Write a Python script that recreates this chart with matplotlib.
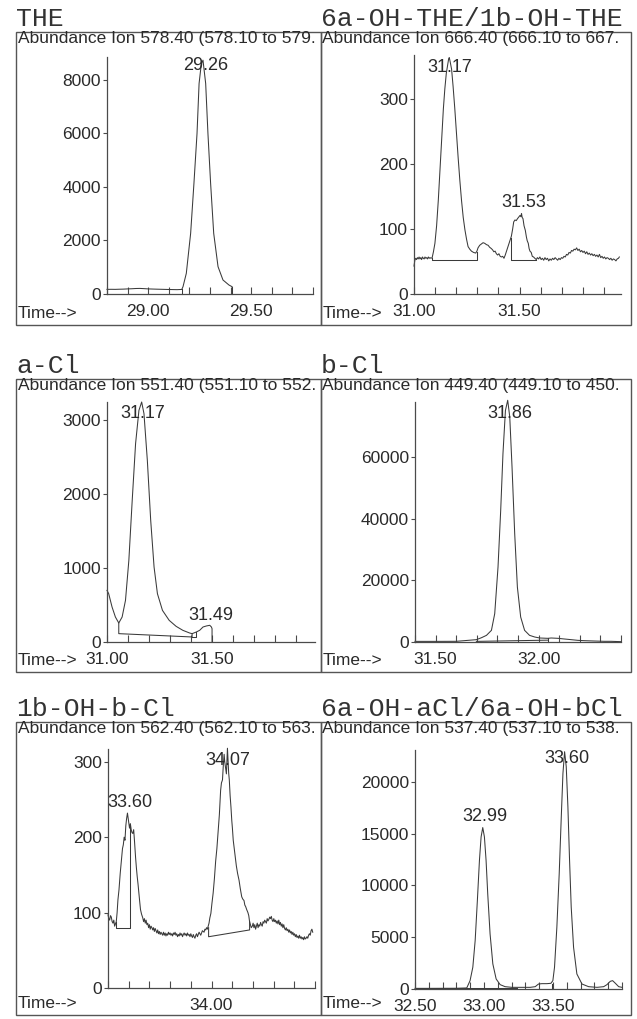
import matplotlib
matplotlib.use("Agg")
import matplotlib.pyplot as plt
from matplotlib.patches import Rectangle

# ---------------- data ----------------
titles = ["THE", "6a-OH-THE/1b-OH-THE", "a-Cl", "b-Cl", "1b-OH-b-Cl", "6a-OH-aCl/6a-OH-bCl"]
headers = ["Abundance Ion 578.40 (578.10 to 579.",
           "Abundance Ion 666.40 (666.10 to 667.",
           "Abundance Ion 551.40 (551.10 to 552.",
           "Abundance Ion 449.40 (449.10 to 450.",
           "Abundance Ion 562.40 (562.10 to 563.",
           "Abundance Ion 537.40 (537.10 to 538."]

# Panel 1: THE
the_x = [28.80, 28.82, 28.84, 28.86, 28.88, 28.90, 28.92, 28.94, 28.96, 28.98, 29.00, 29.02,
         29.04, 29.06, 29.08, 29.10, 29.12, 29.14, 29.163, 29.169, 29.185, 29.206, 29.222,
         29.237, 29.247, 29.258, 29.266, 29.279, 29.290, 29.303, 29.318, 29.339, 29.363,
         29.392, 29.407]
the_y = [172, 175, 173, 178, 182, 190, 196, 205, 208, 200, 190, 185, 180, 176, 172, 168, 165,
         162, 170, 273, 770, 2261, 4124, 5988, 7851, 8596, 8720, 7851, 5988, 4124, 2261, 1019,
         522, 335, 273]
the_int_x = [[29.163, 29.163], [29.407, 29.407]]
the_int_y = [[0, 170], [0, 273]]
the_lab = [(29.277, 8534, "29.26")]

# Panel 2: 6a-OH-THE/1b-OH-THE
oh_x = [31.000, 31.004, 31.008, 31.012, 31.016, 31.020, 31.024, 31.028, 31.032, 31.036, 31.040,
        31.044, 31.048, 31.052, 31.056, 31.060, 31.064, 31.068, 31.072, 31.076, 31.080, 31.086,
        31.092, 31.099, 31.107, 31.115, 31.123, 31.131, 31.139, 31.146, 31.153, 31.159, 31.164,
        31.167, 31.171, 31.178, 31.185, 31.193, 31.201, 31.209, 31.217, 31.225, 31.233, 31.241,
        31.249, 31.256, 31.264, 31.272, 31.282, 31.292, 31.298, 31.303, 31.311, 31.319, 31.327,
        31.335, 31.343, 31.351, 31.358, 31.366, 31.372, 31.378, 31.384, 31.390, 31.396, 31.402,
        31.408, 31.414, 31.420, 31.426, 31.432, 31.438, 31.444, 31.450, 31.456, 31.461, 31.467,
        31.472, 31.478, 31.484, 31.490, 31.497, 31.502, 31.506, 31.509, 31.512, 31.516, 31.521,
        31.527, 31.532, 31.536, 31.541, 31.545, 31.549, 31.555, 31.560, 31.566, 31.572, 31.579,
        31.584, 31.590, 31.596, 31.602, 31.608, 31.614, 31.620, 31.626, 31.632, 31.638, 31.644,
        31.650, 31.656, 31.662, 31.668, 31.674, 31.680, 31.686, 31.692, 31.698, 31.704, 31.710,
        31.716, 31.722, 31.728, 31.734, 31.740, 31.746, 31.752, 31.758, 31.764, 31.770, 31.776,
        31.782, 31.788, 31.794, 31.800, 31.806, 31.812, 31.818, 31.824, 31.830, 31.836, 31.842,
        31.848, 31.854, 31.860, 31.866, 31.872, 31.878, 31.884, 31.890, 31.896, 31.902, 31.908,
        31.914, 31.920, 31.926, 31.932, 31.938, 31.944, 31.950, 31.956, 31.962, 31.968, 31.972]
oh_y = [43, 52, 55, 53, 56, 54, 57, 54, 56, 53, 57,
        55, 54, 57, 55, 56, 54, 57, 55, 56, 55, 56,
        65, 78, 105, 144, 190, 235, 285, 316, 340, 352, 362,
        364, 358, 346, 320, 286, 248, 210, 175, 144, 118, 99,
        84, 73, 69, 66, 64, 63, 66, 71, 75, 77, 79,
        78, 76, 75, 72, 70, 68, 65, 66, 62, 60, 62,
        58, 57, 58, 55, 60, 66, 72, 78, 84, 89, 100,
        111, 114, 113, 116, 119, 121, 119, 124, 118, 116, 105,
        98, 88, 82, 78, 70, 66, 64, 58, 57, 55, 53,
        56, 54, 57, 53, 55, 52, 56, 53, 55, 51, 54,
        52, 55, 53, 56, 54, 52, 55, 53, 56, 55, 58,
        57, 61, 60, 64, 63, 67, 66, 69, 68, 71, 67,
        69, 65, 67, 64, 66, 62, 65, 61, 63, 60, 62,
        59, 61, 58, 60, 57, 61, 56, 58, 55, 57, 54,
        56, 55, 53, 55, 52, 54, 53, 51, 54, 55, 57]
oh_int_x = [[31.086, 31.086, 31.296, 31.296], [31.458, 31.458, 31.579, 31.579]]
oh_int_y = [[56, 53, 53, 64], [86, 53, 53, 53]]
oh_lab = [(31.170, 349, "31.17"), (31.519, 141, "31.53")]

# Panel 3: a-Cl
acl_x = [31.000, 31.008, 31.024, 31.040, 31.056, 31.072, 31.088, 31.104, 31.120, 31.136, 31.152,
         31.165, 31.176, 31.192, 31.208, 31.224, 31.240, 31.264, 31.296, 31.329, 31.361, 31.393,
         31.405, 31.425, 31.441, 31.457, 31.473, 31.489, 31.497, 31.500, 31.500]
acl_y = [699, 654, 474, 338, 257, 338, 564, 1105, 1917, 2684, 3135,
         3248, 3090, 2458, 1646, 1015, 654, 428, 293, 212, 158, 122,
         113, 135, 158, 203, 217, 226, 203, 180, 0]
acl_int_x = [[31.056, 31.056, 31.405, 31.405], [31.405, 31.425, 31.425]]
acl_int_y = [[257, 113, 68, 113], [68, 68, 135]]
acl_lab = [(31.168, 3099, "31.17"), (31.492, 361, "31.49")]

# Panel 4: b-Cl
bcl_x = [31.400, 31.500, 31.600, 31.698, 31.723, 31.747, 31.771, 31.787, 31.803, 31.816, 31.827,
         31.839, 31.850, 31.860, 31.871, 31.884, 31.897, 31.913, 31.932, 31.956, 31.981, 32.005,
         32.045, 32.061, 32.094, 32.126, 32.158, 32.190, 32.223, 32.271, 32.319, 32.352, 32.400]
bcl_y = [200, 200, 220, 757, 1400, 2160, 3780, 9190, 24300, 42700, 61080,
         75100, 78400, 73000, 56800, 35100, 17800, 8100, 3780, 2160, 1620, 1300,
         1190, 1300, 1190, 970, 760, 540, 430, 320, 220, 220, 110]
bcl_int_x = [[31.698, 32.045], [32.045, 32.045]]
bcl_int_y = [[200, 600], [0, 1190]]
bcl_lab = [(31.860, 74270, "31.86")]

# Panel 5: 1b-OH-b-Cl
ohb_x = [33.500, 33.504, 33.508, 33.512, 33.516, 33.520, 33.524, 33.528, 33.532, 33.536, 33.540,
         33.544, 33.548, 33.553, 33.559, 33.565, 33.570, 33.574, 33.578, 33.582, 33.586, 33.590,
         33.594, 33.597, 33.600, 33.604, 33.608, 33.612, 33.616, 33.620, 33.624, 33.628, 33.633,
         33.637, 33.641, 33.645, 33.649, 33.653, 33.657, 33.662, 33.668, 33.672, 33.676, 33.680,
         33.684, 33.688, 33.692, 33.696, 33.700, 33.704, 33.708, 33.712, 33.716, 33.720, 33.724,
         33.728, 33.732, 33.736, 33.740, 33.744, 33.748, 33.752, 33.756, 33.760, 33.764, 33.768,
         33.772, 33.776, 33.780, 33.784, 33.788, 33.792, 33.796, 33.800, 33.804, 33.808, 33.812,
         33.816, 33.820, 33.824, 33.828, 33.832, 33.836, 33.840, 33.844, 33.848, 33.852, 33.856,
         33.860, 33.864, 33.868, 33.872, 33.876, 33.880, 33.884, 33.888, 33.892, 33.896, 33.900,
         33.904, 33.908, 33.912, 33.916, 33.920, 33.924, 33.928, 33.932, 33.936, 33.940, 33.944,
         33.948, 33.952, 33.956, 33.960, 33.964, 33.968, 33.972, 33.976, 33.980, 33.984, 33.988,
         33.992, 33.997, 34.002, 34.008, 34.014, 34.020, 34.026, 34.032, 34.038, 34.044, 34.048,
         34.053, 34.057, 34.061, 34.064, 34.066, 34.069, 34.072, 34.075, 34.077, 34.080, 34.083,
         34.086, 34.090, 34.094, 34.098, 34.101, 34.105, 34.109, 34.114, 34.120, 34.126, 34.133,
         34.139, 34.146, 34.151, 34.157, 34.161, 34.165, 34.170, 34.176, 34.180, 34.184, 34.188,
         34.192, 34.197, 34.201, 34.205, 34.209, 34.213, 34.217, 34.221, 34.225, 34.229, 34.233,
         34.237, 34.241, 34.245, 34.249, 34.253, 34.257, 34.261, 34.265, 34.269, 34.273, 34.277,
         34.281, 34.285, 34.289, 34.293, 34.297, 34.301, 34.305, 34.309, 34.313, 34.317, 34.321,
         34.325, 34.329, 34.333, 34.337, 34.341, 34.345, 34.349, 34.353, 34.357, 34.361, 34.365,
         34.369, 34.373, 34.377, 34.381, 34.385, 34.389, 34.393, 34.397, 34.401, 34.405, 34.409,
         34.413, 34.417, 34.421, 34.425, 34.429, 34.433, 34.437, 34.441, 34.445, 34.449, 34.453,
         34.457, 34.461, 34.465, 34.469, 34.473, 34.477, 34.481, 34.485, 34.489]
ohb_y = [97, 92, 90, 96, 94, 88, 86, 90, 82, 85, 88,
         100, 117, 130, 152, 170, 185, 190, 200, 196, 215, 225,
         232, 226, 220, 212, 218, 210, 206, 205, 210, 195, 174,
         160, 148, 138, 126, 115, 104, 98, 93, 88, 92, 86,
         90, 84, 86, 80, 84, 78, 82, 80, 77, 80, 75,
         79, 76, 73, 77, 72, 75, 71, 74, 72, 70, 74,
         70, 73, 69, 72, 70, 74, 71, 73, 70, 72, 69,
         73, 71, 74, 70, 72, 68, 71, 69, 73, 70, 72,
         68, 71, 73, 70, 72, 69, 73, 70, 71, 68, 72,
         69, 67, 71, 68, 66, 70, 72, 68, 71, 74, 72,
         70, 73, 76, 75, 74, 78, 77, 80, 78, 82, 86,
         93, 99, 112, 126, 145, 168, 185, 208, 230, 262, 272,
         276, 295, 310, 300, 296, 290, 284, 305, 318, 300, 285,
         276, 255, 240, 222, 212, 196, 187, 175, 162, 152, 143,
         132, 121, 118, 116, 110, 108, 104, 100, 96, 88, 84,
         80, 82, 86, 80, 84, 78, 82, 86, 80, 84, 82,
         87, 84, 82, 88, 86, 90, 88, 86, 92, 89, 91,
         94, 92, 95, 90, 88, 92, 88, 90, 86, 89, 85,
         90, 84, 87, 82, 85, 80, 84, 79, 77, 80, 76,
         78, 74, 77, 73, 75, 71, 74, 70, 72, 68, 71,
         67, 69, 66, 70, 66, 68, 65, 67, 64, 68, 65,
         66, 68, 66, 70, 72, 70, 76, 78, 74]
ohb_int_x = [[33.540, 33.540, 33.604, 33.604], [33.986, 33.986, 34.184, 34.184]]
ohb_int_y = [[88, 80, 80, 214], [80, 68, 77, 88]]
ohb_lab = [(33.606, 246, "33.60"), (34.077, 302, "34.07")]

# Panel 6: 6a-OH-aCl/6a-OH-bCl
ohc_x = [32.500, 32.600, 32.700, 32.800, 32.875, 32.899, 32.919, 32.936, 32.952, 32.967, 32.979,
         32.991, 33.003, 33.015, 33.027, 33.044, 33.064, 33.088, 33.117, 33.153, 33.202, 33.238,
         33.286, 33.335, 33.371, 33.395, 33.419, 33.456, 33.485, 33.499, 33.511, 33.528, 33.545,
         33.560, 33.572, 33.584, 33.596, 33.608, 33.620, 33.632, 33.649, 33.673, 33.710, 33.758,
         33.819, 33.867, 33.891, 33.915, 33.932, 33.952, 33.976, 34.000]
ohc_y = [60, 60, 65, 70, 100, 806, 2100, 4680, 8550, 12420, 14680,
         15580, 14680, 12420, 9190, 5320, 2420, 970, 420, 225, 160, 160,
         160, 160, 225, 480, 516, 516, 550, 806, 2100, 5970, 11130,
         16610, 20800, 22900, 21450, 17580, 12420, 7900, 4030, 1450, 480, 225,
         160, 225, 420, 740, 806, 550, 225, 160]
ohc_int_x = [[32.500, 33.240], [33.490, 33.490]]
ohc_int_y = [[90, 90], [0, 530]]
ohc_lab = [(33.008, 16610, "32.99"), (33.601, 22260, "33.60")]

# axis limits and ticks
xlims = [(28.80, 29.80), (31.00, 31.98), (31.00, 31.99), (31.40, 32.40), (33.50, 34.50), (32.50, 34.00)]
ylims = [(0, 8840), (0, 368), (0, 3248), (0, 77840), (0, 317), (0, 23065)]
xtick_labels = [{29.0: "29.00", 29.5: "29.50"},
                {31.0: "31.00", 31.5: "31.50"},
                {31.0: "31.00", 31.5: "31.50"},
                {31.5: "31.50", 32.0: "32.00"},
                {34.0: "34.00"},
                {32.5: "32.50", 33.0: "33.00", 33.5: "33.50"}]
yticks = [[0, 2000, 4000, 6000, 8000],
          [0, 100, 200, 300],
          [0, 1000, 2000, 3000],
          [0, 20000, 40000, 60000],
          [0, 100, 200, 300],
          [0, 5000, 10000, 15000, 20000]]

traces = [(the_x, the_y), (oh_x, oh_y), (acl_x, acl_y), (bcl_x, bcl_y), (ohb_x, ohb_y), (ohc_x, ohc_y)]
integrations = [(the_int_x, the_int_y), (oh_int_x, oh_int_y), (acl_int_x, acl_int_y),
                (bcl_int_x, bcl_int_y), (ohb_int_x, ohb_int_y), (ohc_int_x, ohc_int_y)]
peak_labels = [the_lab, oh_lab, acl_lab, bcl_lab, ohb_lab, ohc_lab]

# ---------------- layout (pixels) ----------------
W, H = 637, 1019
boxes = [(16, 32, 321, 325), (321, 32, 631, 325),
         (16, 379, 321, 672), (321, 379, 631, 672),
         (16, 722, 321, 1015), (321, 722, 631, 1015)]
axrects = [(107, 57, 313, 294), (414, 55, 621, 294),
           (107, 402, 315, 642), (415, 402, 621, 642),
           (108, 749, 315, 988), (415, 750, 622, 989)]

INK = "#2a2a2a"
LINE = "#4a4a4a"
SANS = ["Liberation Sans", "DejaVu Sans"]
MONO = ["Liberation Mono", "DejaVu Sans Mono"]

fig = plt.figure(figsize=(W / 100, H / 100), dpi=100)
fig.patch.set_facecolor("white")


def fx(px):
    return px / W


def fy(py):
    return 1 - py / H


for i in range(6):
    bl, bt, br, bb = boxes[i]
    fig.add_artist(Rectangle((fx(bl), fy(bb)), fx(br) - fx(bl), fy(bt) - fy(bb),
                             transform=fig.transFigure, fill=False, ec="#555555", lw=1.0))
    fig.text(fx(bl), fy(bt - 6), titles[i], family=MONO, fontsize=19, color="#333333",
             ha="left", va="baseline")
    fig.text(fx(bl + 1.5), fy(bt + 11), headers[i], family=SANS, fontsize=12.5, color=INK,
             ha="left", va="baseline")
    fig.text(fx(bl + 1.5), fy(bb - 7), "Time-->", family=SANS, fontsize=12.5, color=INK,
             ha="left", va="baseline")

    l, t, r, b = axrects[i]
    ax = fig.add_axes([fx(l), fy(b), fx(r) - fx(l), fy(t) - fy(b)])
    ax.set_facecolor("none")
    for s in ("top", "right"):
        ax.spines[s].set_visible(False)
    for s in ("left", "bottom"):
        ax.spines[s].set_color(LINE)
        ax.spines[s].set_linewidth(0.9)
    ax.set_xlim(*xlims[i])
    ax.set_ylim(*ylims[i])

    x0, x1 = xlims[i]
    n0 = int(round(x0 * 10))
    n1 = int(x1 * 10 + 1e-6)
    ticks = [k / 10 for k in range(n0, n1 + 1)]
    labs = [xtick_labels[i].get(round(tk, 1), "") for tk in ticks]
    ax.set_xticks(ticks)
    ax.set_xticklabels(labs)
    ax.set_yticks(yticks[i])
    ax.set_yticklabels([str(v) for v in yticks[i]])
    ax.tick_params(axis="x", direction="in", length=5, width=0.8, color=LINE, pad=7,
                   labelsize=12.5, labelcolor=INK)
    ax.tick_params(axis="y", direction="out", length=3, width=0.8, color=LINE, pad=1.5,
                   labelsize=12.5, labelcolor=INK)
    for lab in ax.get_xticklabels() + ax.get_yticklabels():
        lab.set_family(SANS)

    xs, ys = traces[i]
    ax.plot(xs, ys, color="#3a3a3a", lw=0.75, clip_on=False)
    ix, iy = integrations[i]
    for sx, sy in zip(ix, iy):
        ax.plot(sx, sy, color="#3a3a3a", lw=0.75, clip_on=False)
    for (px, py, txt) in peak_labels[i]:
        ax.text(px, py, txt, family=SANS, fontsize=13, color=INK, ha="center", va="center")

fig.savefig("out.png", dpi=100, facecolor="white")
